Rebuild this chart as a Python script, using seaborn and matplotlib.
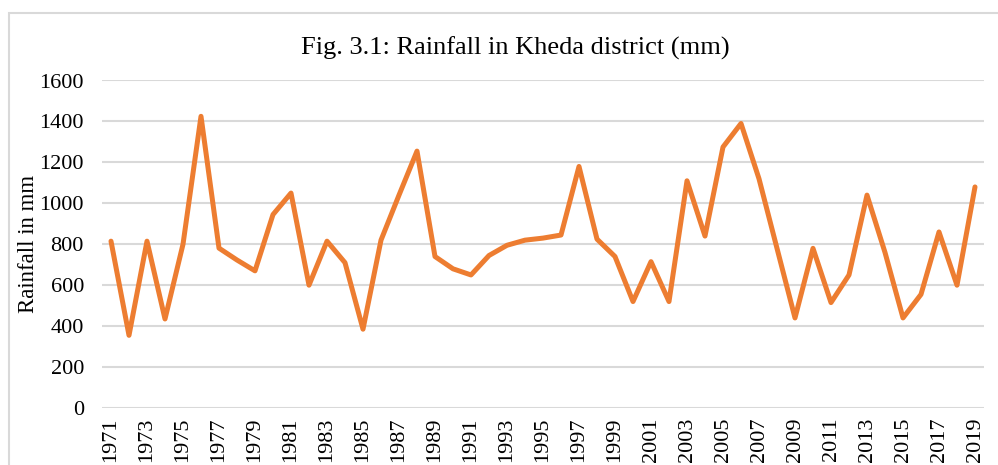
import matplotlib
matplotlib.use("Agg")
import matplotlib.pyplot as plt
import seaborn as sns
from matplotlib.patches import Rectangle

# rainfall values (mm)
years = list(range(1971, 2020))
rainfall = [815, 355, 815, 435, 800, 1425, 781, 723, 670, 945,
            1050, 600, 815, 710, 385, 820, 1040, 1255, 740, 680,
            650, 745, 795, 820, 830, 845, 1180, 825, 740, 520,
            715, 520, 1110, 840, 1275, 1390, 1120, 780, 440, 780,
            515, 650, 1040, 760, 440, 555, 860, 600, 1080]
y_ticks = [0, 200, 400, 600, 800, 1000, 1200, 1400, 1600]
title = "Fig. 3.1: Rainfall in Kheda district (mm)"

sns.set_theme(style="white")
plt.rcParams['font.family'] = ['Liberation Serif', 'DejaVu Serif']
plt.rcParams['text.color'] = 'black'
plt.rcParams['axes.labelcolor'] = 'black'

W, H = 998, 465
fig = plt.figure(figsize=(W / 100, H / 100), dpi=100)
ax = fig.add_axes([102 / W, (H - 408) / H, (984 - 102) / W, (408 - 80.5) / H])

sns.lineplot(x=years, y=rainfall, ax=ax, color='#ED7D31', linewidth=3.6,
             solid_joinstyle='round', solid_capstyle='round')

ax.set_xlim(1970.5, 2019.5)
ax.set_ylim(0, 1600)
ax.set_yticks(y_ticks)
ax.set_xticks(years[::2])
ax.set_xticklabels([str(y) for y in years[::2]], rotation=90)
ax.tick_params(axis='both', labelsize=16, length=0, colors='black')
ax.tick_params(axis='x', pad=7)
ax.tick_params(axis='y', pad=13)
ax.grid(axis='y', color='#D9D9D9', linewidth=1.5)
ax.set_axisbelow(True)
for s in ax.spines.values():
    s.set_visible(False)
ax.set_ylabel('Rainfall in mm', fontsize=16.5, va='center')
ax.yaxis.set_label_coords((29 - 102) / (984 - 102), 0.5)
ax.set_xlabel('')

fig.text(515 / W, (H - 48) / H, title, ha='center', va='center', fontsize=19)

# chart area border
fig.patches.append(Rectangle((9 / W, -0.1), 1.2, (H - 13) / H + 0.1,
                             transform=fig.transFigure, fill=False,
                             edgecolor='#D9D9D9', linewidth=1.5))

fig.savefig('out.png', dpi=100)
